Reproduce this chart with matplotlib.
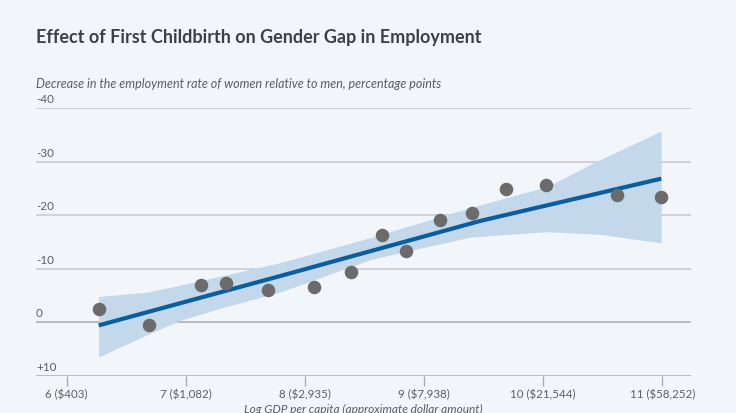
import matplotlib.pyplot as plt
from matplotlib.transforms import blended_transform_factory

# binned scatter: log GDP per capita vs. change in employment gap (pp)
log_gdp = [6.27, 6.69, 7.13, 7.34, 7.69, 8.08, 8.39, 8.65, 8.85,
           9.13, 9.40, 9.69, 10.02, 10.62, 10.99]
gap = [-2.4, 0.5, -7.0, -7.4, -6.0, -6.5, -9.4, -16.3, -13.2,
       -19.1, -20.3, -24.8, -25.6, -23.8, -23.3]

# fitted line
fit_x = [6.27, 7.79, 9.47, 10.99]
fit_y = [0.6, -8.6, -18.9, -26.8]

# confidence band edges
band_x = [6.27, 6.67, 6.95, 7.29, 7.79, 8.55, 9.39, 10.03, 10.48, 10.99]
band_hi = [-4.8, -5.6, -6.9, -8.6, -11.1, -15.8, -21.4, -25.3, -30.4, -35.7]
band_lo = [6.5, 2.4, -0.3, -2.6, -5.6, -11.7, -15.9, -16.9, -16.4, -14.8]

y_ticks = [-40, -30, -20, -10, 0, 10]
y_labels = ['-40', '-30', '-20', '-10', '0', '+10']
x_ticks = [6, 7, 8, 9, 10, 11]
x_labels = ['6 ($403)', '7 ($1,082)', '8 ($2,935)', '9 ($7,938)',
            '10 ($21,544)', '11 ($58,252)']

bg = '#f2f6fa'
grid_col = '#c6c8ca'
text_col = '#5a5d61'

plt.rcParams['font.family'] = ['Lato', 'DejaVu Sans']

fig = plt.figure(figsize=(7.36, 4.14), dpi=100, facecolor=bg)
ax = fig.add_axes([36 / 736, 1 - 376.7 / 414, 655 / 736, 267.7 / 414])
ax.set_facecolor(bg)

ax.fill_between(band_x, band_lo, band_hi, color='#c3d8ea', lw=0, zorder=2)
ax.plot(fit_x, fit_y, color='#0b5e9e', lw=3, solid_capstyle='butt', zorder=3)
ax.scatter(log_gdp, gap, s=95, color='#6b6b6b', lw=0, zorder=4)

ax.set_xlim(5.744, 11.24)
ax.set_ylim(10, -40)

for v in y_ticks:
    c = '#a9abad' if v in (0, 10) else grid_col
    ax.axhline(v, color=c, lw=1.1, zorder=1)

trans = blended_transform_factory(ax.transAxes, ax.transData)
for v, lab in zip(y_ticks, y_labels):
    ax.text(0, v - 0.7, lab, transform=trans, ha='left', va='bottom',
            fontsize=8.4, color=text_col)

ax.set_yticks([])
ax.set_xticks(x_ticks)
ax.set_xticklabels([s.replace('$', r'\$') for s in x_labels],
                   fontsize=8.3, color=text_col)
ax.tick_params(axis='x', length=7, width=1, color='#a9abad', pad=2)
for s in ax.spines.values():
    s.set_visible(False)

fig.text(36 / 736, 1 - 38 / 414, 'Effect of First Childbirth on Gender Gap in Employment',
         fontsize=13, fontweight='bold', color='#3d4146', va='center')
fig.text(36 / 736, 1 - 84 / 414,
         'Decrease in the employment rate of women relative to men, percentage points',
         fontsize=9, style='italic', color=text_col, va='center')
fig.text((36 + 655 / 2) / 736, 1 - 409 / 414,
         'Log GDP per capita (approximate dollar amount)',
         fontsize=8.6, style='italic', color=text_col, ha='center', va='center')

fig.savefig('out.png', dpi=100, facecolor=bg)
